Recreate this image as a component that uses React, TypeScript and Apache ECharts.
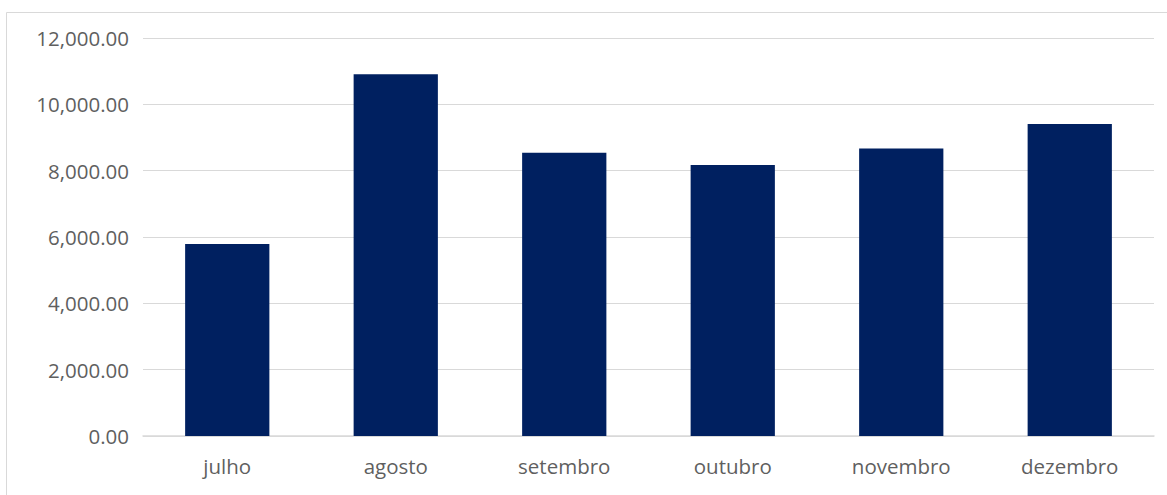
import React, { useEffect, useRef } from "react";
import * as echarts from "echarts";

const categories = ["julho", "agosto", "setembro", "outubro", "novembro", "dezembro"];
const values = [5790, 10910, 8540, 8170, 8670, 9410];
const yTicks = { min: 0, max: 12000, interval: 2000 };

export default function App() {
  const ref = useRef<HTMLDivElement>(null);
  useEffect(() => {
    document.body.style.margin = "0";
    const chart = echarts.init(ref.current!, null, { renderer: "svg" });
    chart.setOption({
      animation: false,
      backgroundColor: "#ffffff",
      textStyle: { fontFamily: "Open Sans" },
      graphic: [
        {
          type: "rect",
          shape: { x: 6.5, y: 12.5, width: 1300, height: 600 },
          style: { fill: "none", stroke: "#d9d9d9", lineWidth: 1 },
          silent: true,
        },
      ],
      grid: { left: 143, right: 13, top: 38, bottom: 59, containLabel: false },
      xAxis: {
        type: "category",
        data: categories,
        axisLine: { show: true, lineStyle: { color: "#d9d9d9", width: 1.5 } },
        axisTick: { show: false },
        axisLabel: { color: "#5f5f5f", fontSize: 20.5, fontFamily: "Open Sans", margin: 19 },
      },
      yAxis: {
        type: "value",
        min: yTicks.min,
        max: yTicks.max,
        interval: yTicks.interval,
        axisLine: { show: false },
        axisTick: { show: false },
        splitLine: { lineStyle: { color: "#d9d9d9", width: 1 } },
        axisLabel: {
          color: "#5f5f5f",
          fontSize: 20.5,
          fontFamily: "Open Sans",
          margin: 14,
          formatter: (v: number) =>
            v.toLocaleString("en-US", { minimumFractionDigits: 2, maximumFractionDigits: 2 }),
        },
      },
      series: [
        {
          type: "bar",
          data: values,
          barCategoryGap: "50%",
          itemStyle: { color: "#002060" },
        },
      ],
    });
    return () => chart.dispose();
  }, []);
  return <div ref={ref} style={{ width: 1167, height: 495 }} />;
}
